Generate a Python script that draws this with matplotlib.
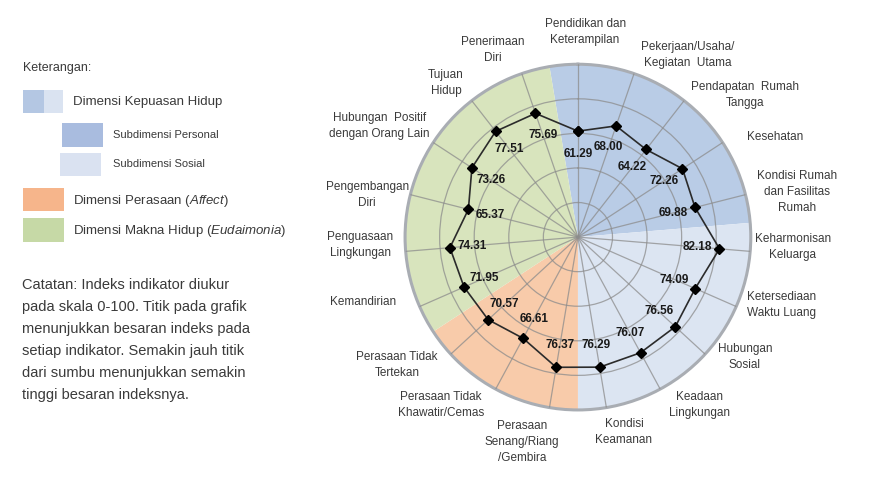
import numpy as np
import matplotlib.pyplot as plt
from matplotlib.patches import Rectangle

plt.rcParams['font.family'] = ['Liberation Sans', 'DejaVu Sans']
plt.rcParams['mathtext.fontset'] = 'custom'
plt.rcParams['mathtext.rm'] = 'Liberation Sans'
plt.rcParams['mathtext.it'] = 'Liberation Sans:italic'

# indicators, clockwise from the top
indicators = [
    'Pendidikan dan\nKeterampilan', 'Pekerjaan/Usaha/\nKegiatan  Utama',
    'Pendapatan  Rumah\nTangga', 'Kesehatan', 'Kondisi Rumah\ndan Fasilitas\nRumah',
    'Keharmonisan\nKeluarga', 'Ketersediaan\nWaktu Luang', 'Hubungan\nSosial',
    'Keadaan\nLingkungan', 'Kondisi\nKeamanan', 'Perasaan\nSenang/Riang\n/Gembira',
    'Perasaan Tidak\nKhawatir/Cemas', 'Perasaan Tidak\nTertekan', 'Kemandirian',
    'Penguasaan\nLingkungan', 'Pengembangan\nDiri', 'Hubungan  Positif\ndengan Orang Lain',
    'Tujuan\nHidup', 'Penerimaan\nDiri',
]
values = [61.29, 68.00, 64.22, 72.26, 69.88, 82.18, 74.09, 76.56, 76.07, 76.29,
          76.37, 66.61, 70.57, 71.95, 74.31, 65.37, 73.26, 77.51, 75.69]

# dimension sectors: number of indicators in each, in order
sector_sizes = [5, 5, 3, 6]
sector_colors = ['#b9cce6', '#dce5f2', '#f8cbaa', '#d8e4bd']

# where each indicator name sits (bearing in degrees, radius in index units)
label_bearing = [2.0, 31.1, 49.6, 63.1, 78.4, 92.7, 108.4, 125.7, 144.0, 166.7,
                 195.3, 219.2, 234.7, 253.1, 267.9, 281.3, 299.2, 319.4, 335.6]
label_radius = [118.6, 122.9, 126.7, 127.7, 129.2, 124.4, 124.3, 118.9, 120.0, 115.8,
                122.8, 125.3, 128.1, 130.0, 126.1, 124.4, 131.7, 117.2, 118.7]

W, H = 873, 478
fig = plt.figure(figsize=(W / 100, H / 100), dpi=100)


def fx(x, y):
    return x / W, 1 - y / H


# radar
ax = fig.add_axes([0.464, 0.142, 0.396, 0.724], projection='polar')
ax.set_theta_zero_location('N')
ax.set_theta_direction(-1)
n = len(values)
step = 2 * np.pi / n
theta = np.arange(n) * step

start = 0
for size, col in zip(sector_sizes, sector_colors):
    ax.bar(start * step - step / 2, 100, width=size * step, bottom=0, align='edge',
           color=col, edgecolor='none', zorder=0)
    start += size

ax.set_ylim(0, 100)
ax.set_yticks([20, 40, 60, 80])
ax.set_yticklabels([])
ax.set_xticks(theta)
ax.set_xticklabels([])
ax.tick_params(length=0)
ax.set_axisbelow(False)
ax.grid(color='#8c8c8c', lw=0.9, alpha=0.75)
ax.spines['polar'].set_color('#a9adb3')
ax.spines['polar'].set_linewidth(2.2)

ax.plot(np.append(theta, theta[0]), np.append(values, values[0]), color='#2b2b2b',
        lw=1.2, marker='D', ms=5, mfc='black', mec='black', zorder=4)

for t, v in zip(theta, values):
    ax.text(t, v - 13, f'{v:.2f}', ha='center', va='center', fontsize=8.5,
            fontweight='bold', color='#1a1a1a', zorder=5)

for name, b, r in zip(indicators, label_bearing, label_radius):
    ax.text(np.deg2rad(b), r, name, ha='center', va='center', fontsize=8.5,
            color='#3a3a3a', linespacing=1.45)

# legend on the left
txt = '#3a3a3a'
fig.text(*fx(23, 68), 'Keterangan:', fontsize=9, color=txt, va='center')

boxes = [
    (23, 90, 21, 23, '#b4c7e3'), (44, 90, 19, 23, '#dae3f1'),
    (62, 123, 41, 24, '#a9bcdf'), (60, 153, 41, 23, '#dae2f1'),
    (23, 188, 41, 23, '#f6b58b'), (23, 218, 41, 24, '#c6d9a6'),
]
for x, y, w, h, c in boxes:
    fig.add_artist(Rectangle(fx(x, y + h), w / W, h / H, transform=fig.transFigure,
                             color=c, lw=0))

fig.text(*fx(73, 102), 'Dimensi Kepuasan Hidup', fontsize=9.5, color=txt, va='center')
fig.text(*fx(113, 135), 'Subdimensi Personal', fontsize=8, color=txt, va='center')
fig.text(*fx(113, 164), 'Subdimensi Sosial', fontsize=8, color=txt, va='center')
fig.text(*fx(73, 201), r'Dimensi Perasaan ($\mathit{Affect}$)', fontsize=9.5,
         color=txt, va='center')
fig.text(*fx(73, 231), r'Dimensi Makna Hidup ($\mathit{Eudaimonia}$)', fontsize=9.5,
         color=txt, va='center')

note = ('Catatan: Indeks indikator diukur\n'
        'pada skala 0-100. Titik pada grafik\n'
        'menunjukkan besaran indeks pada\n'
        'setiap indikator. Semakin jauh titik\n'
        'dari sumbu menunjukkan semakin\n'
        'tinggi besaran indeksnya.')
fig.text(*fx(22, 278), note, fontsize=10.5, color=txt, va='top', linespacing=1.72)

fig.savefig('out.png', dpi=100)
